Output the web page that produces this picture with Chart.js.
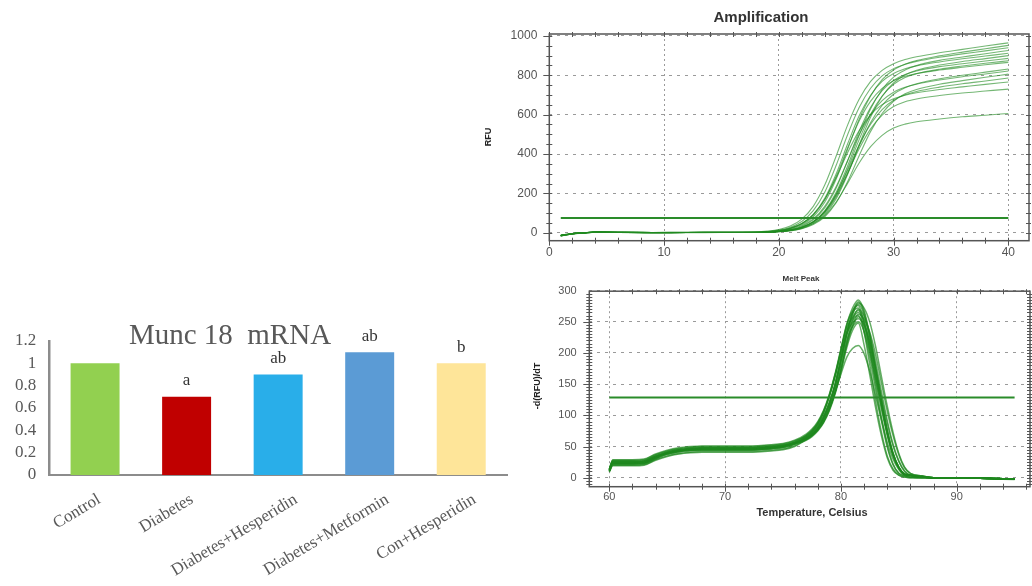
<!DOCTYPE html>
<html>
<head>
<meta charset="utf-8">
<script src="https://cdn.jsdelivr.net/npm/chart.js@4.4.1/dist/chart.umd.min.js"></script>
<style>
  html, body { margin: 0; padding: 0; background: #fff; }
  body { width: 1032px; height: 586px; position: relative; overflow: hidden; }
  canvas { position: absolute; }
</style>
</head>
<body>
<canvas id="barChart" width="515" height="286" style="left:0;top:300px"></canvas>
<canvas id="ampChart" width="552" height="272" style="left:480px;top:0"></canvas>
<canvas id="meltChart" width="552" height="250" style="left:480px;top:272px"></canvas>
<script>
// ---------- Munc 18 mRNA relative expression ----------
const groups = ['Control', 'Diabetes', 'Diabetes+Hesperidin', 'Diabetes+Metformin', 'Con+Hesperidin'];
const munc18Expression = [1.0, 0.7, 0.9, 1.1, 1.0];
const sigLetters = ['', 'a', 'ab', 'ab', 'b'];
const groupColors = ['#92d050', '#c00000', '#29aee9', '#5b9bd5', '#fee599'];
const barYTicks = [0, 0.2, 0.4, 0.6, 0.8, 1, 1.2];
const barTitle = 'Munc 18  mRNA';

// ---------- Amplification (RFU per cycle) ----------
const cycles = [1, 2, 3, 4, 6, 9, 12, 15, 18, 19, 20, 21, 22, 23, 24, 25, 26, 27, 28, 29, 30, 31, 32, 34, 36, 38, 40];
const rfuCurves = [
  [-14, -5, -1, 3, 2, 1, 1, 2, 4, 8, 16, 34, 69, 134, 242, 390, 548, 678, 769, 825, 859, 880, 894, 915, 932, 949, 965],
  [-16, -6, -2, 2, 1, 0, 1, 1, 2, 4, 9, 20, 40, 81, 155, 273, 425, 577, 695, 778, 827, 856, 875, 899, 918, 935, 952],
  [-13, -4, 0, 3, 2, 1, 2, 2, 3, 6, 13, 28, 57, 112, 206, 343, 499, 636, 734, 797, 834, 856, 871, 892, 909, 924, 940],
  [-15, -6, -1, 2, 2, 0, 1, 1, 1, 3, 6, 13, 28, 56, 111, 205, 340, 495, 630, 728, 791, 827, 850, 876, 893, 910, 926],
  [-14, -5, -1, 4, 2, 1, 1, 2, 2, 5, 11, 23, 47, 93, 175, 300, 452, 594, 699, 769, 809, 833, 848, 868, 884, 898, 912],
  [-17, -6, -2, 2, 1, 0, 0, 1, 1, 2, 5, 11, 23, 46, 92, 173, 297, 447, 588, 692, 761, 802, 826, 852, 870, 885, 900],
  [-13, -4, 0, 3, 2, 1, 2, 2, 2, 3, 7, 15, 32, 65, 126, 227, 366, 515, 637, 722, 774, 804, 822, 844, 859, 873, 886],
  [-15, -5, -1, 3, 1, 0, 1, 1, 1, 3, 6, 13, 26, 54, 106, 196, 325, 473, 602, 695, 754, 789, 808, 831, 847, 861, 874],
  [-14, -6, -1, 2, 2, 1, 1, 2, 2, 5, 10, 22, 45, 89, 167, 287, 432, 568, 669, 734, 773, 795, 809, 827, 841, 854, 866],
  [-16, -5, -2, 3, 1, 0, 1, 1, 1, 3, 6, 12, 25, 50, 99, 182, 302, 440, 560, 647, 704, 737, 757, 782, 800, 816, 832],
  [-13, -5, -1, 2, 2, 1, 1, 2, 2, 4, 8, 17, 35, 70, 134, 235, 367, 499, 600, 671, 714, 739, 755, 776, 793, 807, 822],
  [-15, -6, -2, 3, 1, 0, 1, 1, 1, 2, 5, 9, 20, 41, 81, 152, 260, 391, 515, 606, 668, 706, 728, 755, 773, 790, 806],
  [-14, -5, -1, 3, 2, 1, 1, 1, 1, 3, 6, 13, 28, 56, 109, 197, 317, 446, 552, 626, 673, 701, 718, 740, 757, 771, 786],
  [-16, -6, -1, 2, 1, 0, 1, 2, 2, 5, 11, 23, 46, 92, 169, 280, 408, 519, 600, 651, 681, 699, 711, 728, 741, 754, 766],
  [-13, -4, 0, 3, 2, 1, 1, 1, 1, 3, 6, 13, 27, 54, 105, 189, 304, 427, 528, 598, 641, 666, 680, 697, 710, 720, 730],
  [-15, -5, -1, 3, 2, 0, 1, 1, 1, 2, 5, 11, 22, 45, 87, 156, 252, 354, 437, 495, 532, 552, 564, 578, 589, 597, 606]
];
const ampThreshold = 75;
const ampThresholdSpan = [1, 40];
const ampXTicks = [0, 10, 20, 30, 40];
const ampYTicks = [0, 200, 400, 600, 800, 1000];

// ---------- Melt peak (-d(RFU)/dT per temperature) ----------
const temps = [60, 60.3, 61, 62, 63, 64, 65, 66, 67, 68, 70, 72, 74, 75, 76, 77, 77.5, 78, 78.5, 79, 79.5, 80, 80.5, 81, 81.5, 82, 82.5, 83, 83.5, 84, 84.5, 85, 85.5, 86, 87, 88, 90, 92, 95];
const meltCurves = [
  [13, 26, 26, 26, 27, 35, 41, 45, 47, 48, 48, 48, 50, 52, 57, 68, 76, 88, 106, 132, 165, 205, 245, 272, 285, 268, 228, 177, 125, 77, 40, 17, 6, 4, 1, 0, 0, -1, -2],
  [12, 24, 24, 24, 25, 33, 40, 44, 46, 47, 47, 47, 49, 51, 56, 65, 72, 82, 98, 120, 150, 190, 232, 262, 280, 272, 249, 210, 162, 115, 73, 39, 17, 7, 3, 0, 0, -1, -2],
  [14, 28, 28, 28, 29, 37, 43, 47, 49, 50, 50, 50, 52, 54, 59, 67, 74, 84, 99, 121, 150, 190, 232, 262, 278, 261, 222, 172, 122, 75, 39, 17, 6, 4, 1, 0, 0, -1, -2],
  [11, 22, 22, 22, 23, 31, 38, 42, 44, 45, 45, 45, 47, 49, 54, 65, 73, 85, 104, 130, 163, 203, 243, 265, 272, 234, 180, 122, 73, 35, 14, 4, 1, 0, 0, 0, 0, -1, -2],
  [12, 25, 25, 25, 26, 34, 41, 45, 47, 48, 48, 48, 50, 52, 56, 62, 68, 77, 90, 110, 138, 175, 218, 252, 270, 259, 230, 186, 138, 92, 54, 27, 11, 4, 2, 0, 0, -1, -2],
  [10, 20, 20, 20, 21, 29, 35, 39, 41, 42, 42, 42, 44, 46, 51, 62, 69, 79, 95, 117, 147, 187, 229, 257, 268, 252, 214, 166, 118, 72, 38, 16, 5, 4, 1, 0, 0, -1, -2],
  [13, 27, 27, 27, 28, 36, 42, 46, 48, 49, 49, 49, 51, 53, 58, 68, 76, 88, 106, 132, 165, 203, 240, 256, 265, 249, 212, 164, 117, 72, 37, 16, 5, 4, 1, 0, 0, -1, -3],
  [11, 23, 23, 23, 24, 32, 39, 43, 45, 46, 46, 46, 48, 50, 55, 61, 67, 76, 89, 109, 137, 173, 214, 245, 262, 254, 233, 197, 152, 107, 68, 37, 16, 7, 3, 0, 0, -1, -2],
  [10, 21, 21, 21, 22, 30, 37, 41, 43, 44, 44, 44, 46, 48, 53, 63, 70, 80, 96, 118, 148, 188, 228, 252, 260, 234, 192, 140, 91, 49, 21, 7, 3, 1, 0, 0, 0, -1, -2],
  [13, 26, 26, 26, 27, 34, 40, 44, 46, 47, 47, 47, 49, 51, 56, 62, 68, 77, 90, 110, 137, 173, 212, 242, 258, 243, 206, 160, 114, 70, 36, 15, 5, 4, 1, 0, 0, -1, -2],
  [12, 24, 24, 24, 25, 33, 39, 43, 45, 46, 46, 46, 48, 50, 55, 66, 74, 86, 104, 130, 162, 199, 232, 248, 255, 245, 217, 176, 130, 87, 51, 26, 10, 4, 2, 0, 0, -1, -2],
  [9, 19, 19, 19, 20, 28, 34, 38, 40, 41, 41, 41, 43, 45, 50, 61, 68, 78, 94, 115, 144, 182, 220, 242, 250, 235, 200, 155, 110, 68, 35, 15, 5, 3, 1, 0, 0, -1, -2],
  [11, 22, 22, 22, 23, 31, 38, 42, 44, 45, 45, 45, 47, 49, 54, 60, 66, 75, 88, 107, 134, 169, 208, 236, 248, 213, 164, 112, 67, 32, 12, 4, 1, 0, 0, 0, 0, -1, -2],
  [12, 25, 25, 25, 26, 34, 40, 44, 46, 47, 47, 47, 49, 51, 56, 64, 70, 79, 93, 112, 137, 166, 193, 207, 212, 199, 170, 131, 93, 57, 30, 13, 4, 3, 1, 0, 0, -1, -2],
  [14, 29, 29, 29, 30, 38, 44, 48, 50, 51, 51, 51, 53, 55, 60, 70, 78, 90, 108, 134, 167, 207, 246, 268, 276, 248, 204, 149, 97, 52, 22, 7, 3, 1, 0, 0, 0, -1, -2],
  [11, 23, 23, 23, 24, 32, 39, 43, 45, 45, 45, 45, 47, 50, 55, 64, 71, 81, 97, 119, 150, 190, 233, 265, 282, 265, 226, 175, 124, 76, 39, 17, 6, 4, 1, 0, 0, -1, -2]
];
const meltThreshold = 128.5;
const meltThresholdSpan = [60, 95];
const meltXTicks = [60, 70, 80, 90];
const meltYTicks = [0, 50, 100, 150, 200, 250, 300];

// ---------- shared helpers ----------
const SERIF = '"Liberation Serif", "Times New Roman", serif';
const SANS = '"Liberation Sans", Arial, sans-serif';
const CURVE_GREEN = 'rgba(32, 138, 32, 0.62)';
const MELT_GREEN = 'rgba(30, 136, 30, 0.68)';
const LINE_GREEN = '#2a8c2a';

// Draws free text items (titles, axis names) given in plugin options.
const textItems = {
  id: 'textItems',
  afterDraw(chart, args, opts) {
    const ctx = chart.ctx;
    ctx.save();
    (opts.items || []).forEach(t => {
      ctx.save();
      ctx.font = t.font;
      ctx.fillStyle = t.color;
      ctx.textAlign = 'center';
      ctx.textBaseline = 'middle';
      ctx.translate(t.x, t.y);
      if (t.rotate) ctx.rotate(t.rotate);
      ctx.fillText(t.text, 0, 0);
      ctx.restore();
    });
    ctx.restore();
  }
};

// Box frame around the plot with small tick marks on every side.
const frameTicks = {
  id: 'frameTicks',
  afterDatasetsDraw(chart, args, o) {
    if (!o.xMinor) return;
    const { ctx, chartArea: a } = chart;
    const xs = chart.scales.x, ys = chart.scales.y;
    ctx.save();
    ctx.strokeStyle = o.color;
    ctx.lineWidth = 1;
    ctx.beginPath();
    for (let k = Math.ceil(xs.min / o.xMinor); k * o.xMinor <= xs.max + 1e-9; k++) {
      const v = k * o.xMinor;
      const px = Math.round(xs.getPixelForValue(v)) + 0.5;
      const major = xs.ticks.some(t => Math.abs(t.value - v) < 1e-6);
      ctx.moveTo(px, a.bottom - 3); ctx.lineTo(px, a.bottom + (major ? 5 : 3));
      ctx.moveTo(px, a.top - 2); ctx.lineTo(px, a.top + 3);
    }
    for (let k = Math.ceil(ys.min / o.yMinor); k * o.yMinor <= ys.max + 1e-9; k++) {
      const v = k * o.yMinor;
      const py = Math.round(ys.getPixelForValue(v)) + 0.5;
      const major = ys.ticks.some(t => Math.abs(t.value - v) < 1e-6);
      ctx.moveTo(a.left - (major ? 6 : 3), py); ctx.lineTo(a.left + 3, py);
      ctx.moveTo(a.right - 3, py); ctx.lineTo(a.right + 2, py);
    }
    ctx.stroke();
    ctx.lineWidth = 1.5;
    ctx.strokeRect(a.left, a.top, a.right - a.left, a.bottom - a.top);
    ctx.restore();
  }
};

// Significance letters above the bars, the panel title and the slanted group names.
const barAnnotations = {
  id: 'barAnnotations',
  afterDraw(chart) {
    const ctx = chart.ctx;
    const meta = chart.getDatasetMeta(0);
    const xs = chart.scales.x;
    ctx.save();
    ctx.font = '17px ' + SERIF;
    ctx.fillStyle = '#333';
    ctx.textAlign = 'center';
    ctx.textBaseline = 'middle';
    meta.data.forEach((bar, i) => {
      if (sigLetters[i]) ctx.fillText(sigLetters[i], bar.x, bar.y - 16);
    });
    ctx.font = '29px ' + SERIF;
    ctx.fillStyle = '#595959';
    ctx.fillText(barTitle, 230, 36);

    // group names, slanted, their upper end sitting just right of each category centre
    ctx.font = '17px ' + SERIF;
    ctx.fillStyle = '#595959';
    ctx.textAlign = 'right';
    ctx.textBaseline = 'top';
    groups.forEach((label, i) => {
      const w = ctx.measureText(label).width;
      ctx.save();
      ctx.translate(xs.getPixelForTick(i) + 0.15 * w - 8, xs.top + 16);
      ctx.rotate(-31 * Math.PI / 180);
      ctx.fillText(label, 0, 0);
      ctx.restore();
    });
    ctx.restore();
  }
};

// ---------- bar chart ----------
new Chart(document.getElementById('barChart'), {
  type: 'bar',
  data: {
    labels: groups,
    datasets: [{
      data: munc18Expression,
      backgroundColor: groupColors,
      borderWidth: 0,
      barPercentage: 0.535,
      categoryPercentage: 1
    }]
  },
  options: {
    responsive: false,
    animation: false,
    events: [],
    layout: { padding: { top: 41, right: 8, left: 0, bottom: 0 } },
    plugins: { legend: { display: false }, tooltip: { enabled: false } },
    scales: {
      x: {
        grid: { display: false, drawTicks: false },
        border: { display: true, color: '#8c8c8c', width: 2 },
        ticks: { display: false },
        afterFit: s => { s.height = 111; }
      },
      y: {
        min: 0, max: 1.2,
        grid: { display: false, drawTicks: false },
        border: { display: true, color: '#8c8c8c', width: 2.5 },
        afterBuildTicks: s => { s.ticks = barYTicks.map(v => ({ value: v })); },
        ticks: { font: { family: SERIF, size: 17 }, color: '#595959', padding: 13, autoSkip: false, callback: v => String(v) },
        afterFit: s => { s.width = 49.3; }
      }
    }
  },
  plugins: [barAnnotations]
});

// ---------- amplification chart ----------
const ampDatasets = [{
  data: ampThresholdSpan.map(c => ({ x: c, y: ampThreshold })),
  borderColor: LINE_GREEN, borderWidth: 2, pointRadius: 0
}].concat(rfuCurves.map(vals => ({
  data: vals.map((v, i) => ({ x: cycles[i], y: v })),
  borderColor: CURVE_GREEN, borderWidth: 1.1, pointRadius: 0, cubicInterpolationMode: 'monotone'
})));

new Chart(document.getElementById('ampChart'), {
  type: 'line',
  data: { datasets: ampDatasets },
  options: {
    responsive: false,
    animation: false,
    events: [],
    layout: { padding: { top: 34, right: 3, left: 0, bottom: 0 } },
    plugins: {
      legend: { display: false }, tooltip: { enabled: false },
      frameTicks: { xMinor: 2, yMinor: 50, color: '#555' },
      textItems: { items: [
        { text: 'Amplification', x: 281, y: 18, font: 'bold 15px ' + SANS, color: '#333' },
        { text: 'RFU', x: 9, y: 137, font: 'bold 9px ' + SANS, color: '#222', rotate: -Math.PI / 2 }
      ] }
    },
    scales: {
      x: {
        type: 'linear', min: 0, max: 41.8,
        afterBuildTicks: s => { s.ticks = ampXTicks.map(v => ({ value: v })); },
        afterFit: s => { s.height = 31.3; },
        grid: { color: '#9a9a9a', lineWidth: 1, drawTicks: false },
        border: { display: false, dash: [2, 3] },
        ticks: { font: { family: SANS, size: 12 }, color: '#555', padding: 5, maxRotation: 0, callback: v => String(v) }
      },
      y: {
        min: -40.7, max: 1010,
        afterBuildTicks: s => { s.ticks = ampYTicks.map(v => ({ value: v })); },
        afterFit: s => { s.width = 69.3; },
        grid: { color: '#9a9a9a', lineWidth: 1, drawTicks: false },
        border: { display: false, dash: [3, 5] },
        ticks: { font: { family: SANS, size: 12 }, color: '#555', padding: 12, callback: v => String(v) }
      }
    }
  },
  plugins: [frameTicks, textItems]
});

// ---------- melt peak chart ----------
const meltDatasets = [{
  data: meltThresholdSpan.map(t => ({ x: t, y: meltThreshold })),
  borderColor: LINE_GREEN, borderWidth: 2, pointRadius: 0
}].concat(meltCurves.map(vals => ({
  data: vals.map((v, i) => ({ x: temps[i], y: v })),
  borderColor: MELT_GREEN, borderWidth: 1.5, pointRadius: 0, cubicInterpolationMode: 'monotone'
})));

new Chart(document.getElementById('meltChart'), {
  type: 'line',
  data: { datasets: meltDatasets },
  options: {
    responsive: false,
    animation: false,
    events: [],
    layout: { padding: { top: 18.7, right: 2, left: 0, bottom: 0 } },
    plugins: {
      legend: { display: false }, tooltip: { enabled: false },
      frameTicks: { xMinor: 2, yMinor: 5, color: '#555' },
      textItems: { items: [
        { text: 'Melt Peak', x: 321, y: 7, font: 'bold 8px ' + SANS, color: '#333' },
        { text: '-d(RFU)/dT', x: 58, y: 114, font: 'bold 9px ' + SANS, color: '#222', rotate: -Math.PI / 2 },
        { text: 'Temperature, Celsius', x: 332, y: 241, font: 'bold 11px ' + SANS, color: '#333' }
      ] }
    },
    scales: {
      x: {
        type: 'linear', min: 58.27, max: 96.33,
        afterBuildTicks: s => { s.ticks = meltXTicks.map(v => ({ value: v })); },
        afterFit: s => { s.height = 35.3; },
        grid: { color: '#9a9a9a', lineWidth: 1, drawTicks: false },
        border: { display: false, dash: [2, 3] },
        ticks: { font: { family: SANS, size: 11 }, color: '#555', padding: 4, maxRotation: 0, callback: v => String(v) }
      },
      y: {
        min: -14.4, max: 299,
        afterBuildTicks: s => { s.ticks = meltYTicks.map(v => ({ value: v })); },
        afterFit: s => { s.width = 109.3; },
        grid: { color: '#9a9a9a', lineWidth: 1, drawTicks: false },
        border: { display: false, dash: [3, 5] },
        ticks: { font: { family: SANS, size: 11 }, color: '#555', padding: 12.6, callback: v => String(v) }
      }
    }
  },
  plugins: [frameTicks, textItems]
});
</script>
</body>
</html>
